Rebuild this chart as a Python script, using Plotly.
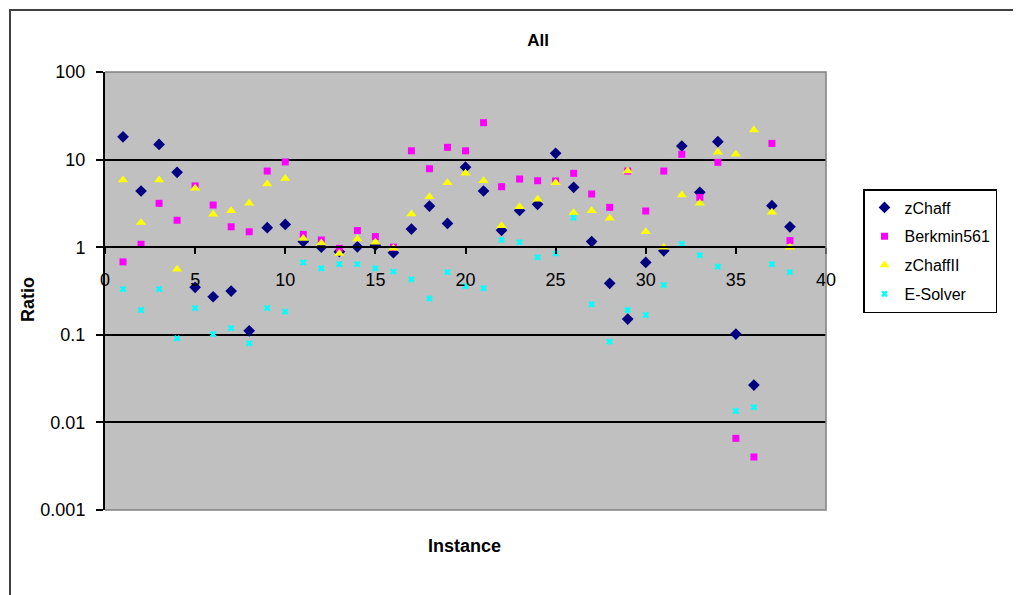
import plotly.graph_objects as go

instances = list(range(1, 39))

zchaff = [18.2, 4.38, 14.9, 7.16, 0.348, 0.272, 0.316, 0.111, 1.67, 1.82,
          1.16, 1.0, 0.89, 1.01, 1.05, 0.865, 1.61, 2.95, 1.87, 8.2,
          4.38, 1.56, 2.63, 3.09, 11.8, 4.83, 1.16, 0.387, 0.151, 0.67,
          0.91, 14.3, 4.23, 16.0, 0.102, 0.0267, 2.98, 1.71]

berkmin561 = [0.68, 1.08, 3.17, 2.03, 5.0, 3.03, 1.71, 1.50, 7.4, 9.4,
              1.40, 1.21, 0.97, 1.55, 1.32, 1.0, 12.6, 7.87, 13.8, 12.6,
              26.4, 4.9, 6.0, 5.74, 5.7, 6.97, 4.05, 2.85, 7.4, 2.59,
              7.4, 11.5, 3.71, 9.3, 0.00658, 0.00403, 15.3, 1.19]

zchaffII = [5.85, 1.92, 5.85, 0.56, 4.7, 2.37, 2.61, 3.17, 5.27, 6.1,
            1.26, 1.12, 0.85, 1.24, 1.14, 0.97, 2.39, 3.77, 5.45, 6.97,
            5.74, 1.76, 2.9, 3.52, 5.45, 2.48, 2.61, 2.14, 7.4, 1.50,
            1.0, 3.94, 3.17, 12.1, 11.5, 21.8, 2.5, 1.0]

esolver = [0.333, 0.192, 0.333, 0.091, 0.202, 0.102, 0.119, 0.080, 0.202, 0.184,
           0.67, 0.574, 0.64, 0.64, 0.574, 0.526, 0.43, 0.26, 0.52, 0.36,
           0.34, 1.21, 1.14, 0.767, 0.85, 2.17, 0.223, 0.0835, 0.192, 0.168,
           0.37, 1.09, 0.81, 0.60, 0.0135, 0.0149, 0.64, 0.52]

y_tickvals = [0.001, 0.01, 0.1, 1, 10, 100]
y_ticktext = ["0.001", "0.01", "0.1", "1", "10", "100"]
x_tickvals = [0, 5, 10, 15, 20, 25, 30, 35, 40]

FONT = "Liberation Sans, Arial, sans-serif"

series = [
    ("zChaff", zchaff, "diamond", 9, "#000080"),
    ("Berkmin561", berkmin561, "square", 7, "#FF00FF"),
    ("zChaffII", zchaffII, "triangle-up", 9, "#FFFF00"),
    ("E-Solver", esolver, "x", 6, "#00FFFF"),
]

fig = go.Figure()
for name, vals, sym, size, col in series:
    fig.add_trace(go.Scatter(
        x=instances, y=vals, mode="markers", name=name, legendgroup=name,
        marker=dict(symbol=sym, size=size, color=col, line=dict(width=0)),
    ))

OFF = 8  # page body margin in the browser
W, H = 1021, 595
L, R, T, B = 105 - OFF, 826 - OFF, 72 - OFF, 510 - OFF
pw, ph = R - L, B - T

def px(xp):
    return (xp - OFF - L) / pw

def py(yp):
    return (B - (yp - OFF)) / ph

fig.update_layout(
    width=W, height=H,
    margin=dict(l=L, r=W - R, t=T, b=H - B, autoexpand=False),
    paper_bgcolor="white",
    plot_bgcolor="#C0C0C0",
    font=dict(family=FONT, size=18, color="black"),
    title=dict(text="<b>All</b>", x=(538 - OFF) / W, xref="container", xanchor="center",
               y=1 - (40 - OFF) / H, yref="container", yanchor="middle",
               font=dict(family=FONT, size=17, color="black")),
    showlegend=True,
    legend=dict(x=px(863), y=py(189), xanchor="left", yanchor="top",
                bgcolor="white", bordercolor="black", borderwidth=1.5,
                font=dict(family=FONT, size=16, color="black"),
                tracegroupgap=5, itemsizing="trace"),
    xaxis=dict(range=[0, 40], tickvals=x_tickvals, showgrid=False, zeroline=False,
               showline=True, linecolor="black", linewidth=2,
               ticks="outside", ticklen=6, tickwidth=2, tickcolor="black",
               anchor="free", position=0.6, ticklabelstandoff=10,
               tickfont=dict(family=FONT, size=18, color="black")),
    yaxis=dict(type="log", range=[-3, 2], tickvals=y_tickvals, ticktext=y_ticktext,
               showgrid=True, gridcolor="black", gridwidth=1.5,
               showline=True, linecolor="black", linewidth=2,
               ticks="outside", ticklen=7, tickwidth=2, tickcolor="black",
               ticklabelstandoff=7, zeroline=False,
               tickfont=dict(family=FONT, size=18, color="black")),
    annotations=[
        dict(text="<b>Ratio</b>", x=px(28), y=py(300), xref="paper", yref="paper",
             textangle=-90, showarrow=False, xanchor="center", yanchor="middle",
             font=dict(family=FONT, size=18, color="black")),
        dict(text="<b>Instance</b>", x=px(464), y=py(546), xref="paper", yref="paper",
             showarrow=False, xanchor="center", yanchor="middle",
             font=dict(family=FONT, size=18, color="black")),
    ],
    shapes=[
        dict(type="path", xref="paper", yref="paper",
             path="M 0 1 L 1 1 L 1 0 L 0 0", line=dict(color="#808080", width=1.5),
             layer="above"),
        dict(type="rect", xref="paper", yref="paper",
             x0=px(10), x1=px(1040), y0=py(610), y1=py(10),
             line=dict(color="#404040", width=2), layer="above"),
    ],
)

fig.write_html("out.html")
